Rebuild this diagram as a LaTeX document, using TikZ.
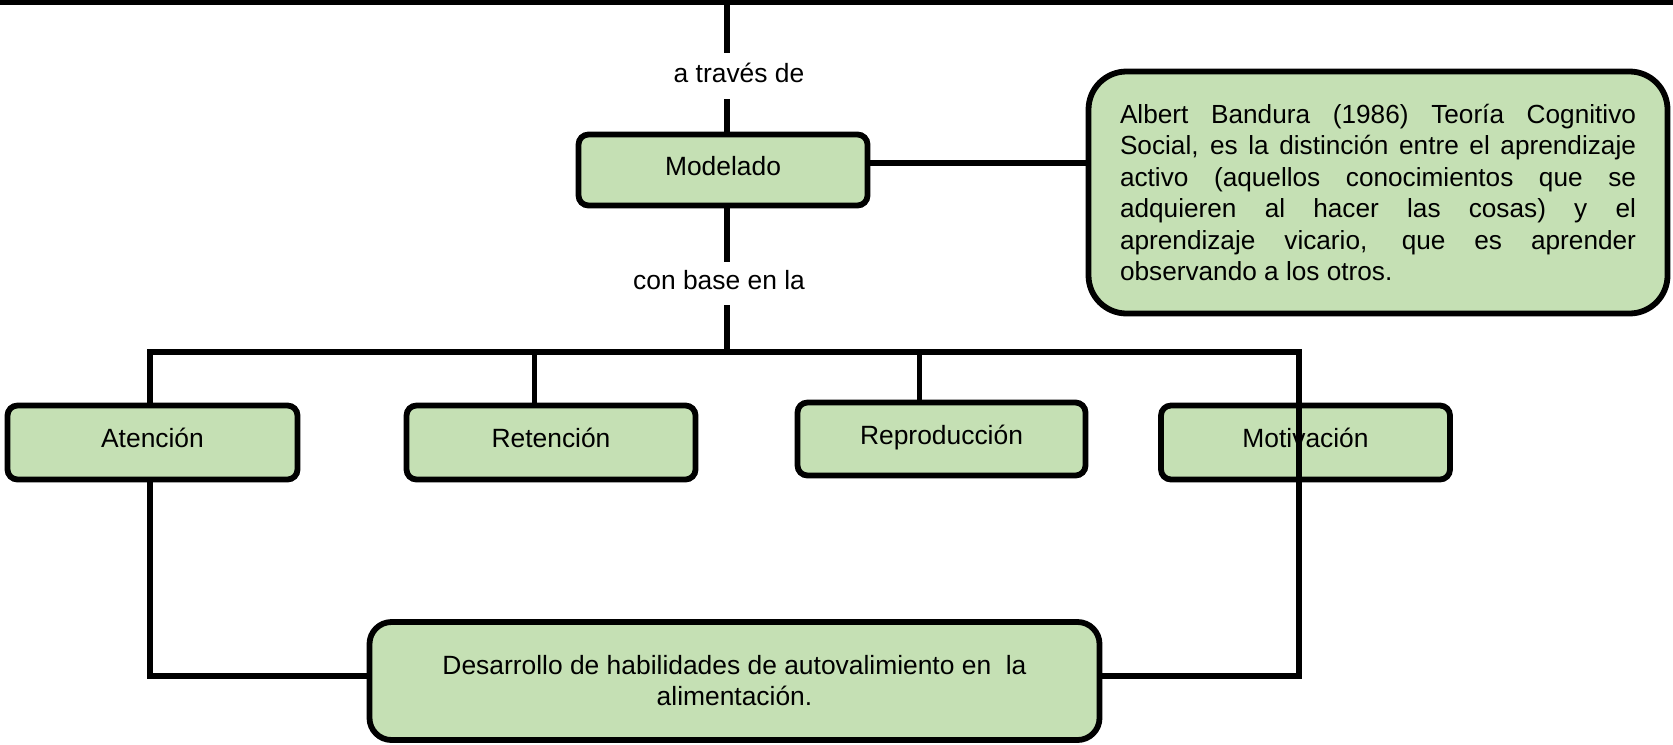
\documentclass[tikz,border=0pt]{standalone}
\usepackage{fontspec}
\setmainfont{Liberation Sans}
\definecolor{boxgreen}{HTML}{C5E0B4}
\begin{document}
\begin{tikzpicture}[x=0.5pt,y=-0.5pt,
  bx/.style={draw=black, line width=2.9pt, fill=boxgreen, rounded corners=5pt, inner sep=0pt, font=\fontsize{13.2}{16}\selectfont},
  smallbox/.style={bx, text height=9pt, text depth=4pt},
  conn/.style={line width=2.7pt},
  lbl/.style={inner sep=0pt, font=\fontsize{13.2}{16}\selectfont}]
\useasboundingbox (0,0) rectangle (1673,744);

% nodes
\node[smallbox, minimum width=144.5pt, minimum height=35.5pt] (mod) at (723,170) {Modelado};
\node[bx, rounded corners=19pt, minimum width=289.5pt, minimum height=121pt, align=left,
      font=\fontsize{13.1}{15.75}\selectfont] (band) at (1378,192.5)
  {\makebox[258pt][s]{Albert Bandura (1986) Teoría Cognitivo}\\
   \makebox[258pt][s]{Social, es la distinción entre el aprendizaje}\\
   \makebox[258pt][s]{activo (aquellos conocimientos que se}\\
   \makebox[258pt][s]{adquieren al hacer las cosas) y el}\\
   \makebox[258pt][s]{aprendizaje vicario, que es aprender}\\
   observando a los otros.};
\node[smallbox, minimum width=145pt, minimum height=37pt] (aten) at (152.5,442.5) {Atención};
\node[smallbox, minimum width=144.5pt, minimum height=37pt] (ret) at (551,442.5) {Retención};
\node[smallbox, minimum width=144pt, minimum height=36.5pt] (rep) at (941.5,439) {Reproducción};
\node[smallbox, minimum width=144.5pt, minimum height=37pt] (mot) at (1305.5,442.5) {Motivación};
\node[bx, rounded corners=11pt, minimum width=365pt, minimum height=59pt, align=center,
      font=\fontsize{13.2}{15.5}\selectfont] (fin) at (734.5,681)
  {Desarrollo de habilidades de autovalimiento en\ \ la\\ alimentación.};

\node[lbl] (l1) at (739,73) {a través de};
\node[lbl] (l2) at (719,280) {con base en la};

% free ends
\coordinate (tl) at (0,2);
\coordinate (tr) at (1673,2);
\coordinate (top) at (727,0);
\coordinate (t1e) at (727,53);
\coordinate (t2s) at (727,99);
\coordinate (m1e) at (727,262);
\coordinate (m2s) at (727,305);
\coordinate (bus) at (727,352);
\coordinate (mb) at (0,163);
\coordinate (bl) at (150,352);
\coordinate (br) at (1299,352);
\coordinate (bbl) at (150,676);
\coordinate (bbr) at (1299,676);
\coordinate (d2) at (534.5,352);
\coordinate (d3) at (919.5,352);

% connectors
\draw[line width=2.9pt] (tl) -- (tr);
\draw[conn] (top) -- (t1e);
\draw[conn] (t2s) -- (t2s |- mod.north);
\draw[conn] (mod.south -| top) -- (m1e);
\draw[conn] (m2s) -- (bus);
\draw[conn] (mod.east |- mb) -- (band.west |- mb);
\draw[conn] (bl |- aten.north) -- (bl) -- (br) -- (bbr) -- (fin.east |- bbr);
\draw[conn] (bl |- aten.south) -- (bbl) -- (fin.west |- bbl);
\draw[conn] (d2) -- (d2 |- ret.north);
\draw[conn] (d3) -- (d3 |- rep.north);
\end{tikzpicture}
\end{document}
